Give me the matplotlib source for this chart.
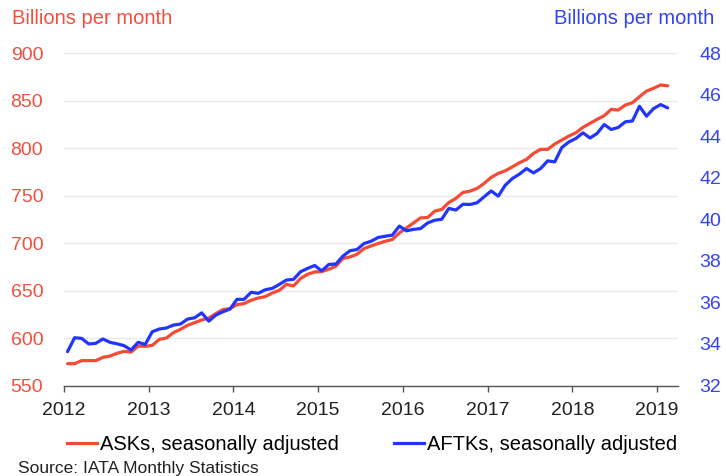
import numpy as np
import pandas as pd
import matplotlib
matplotlib.use("Agg")
import matplotlib.pyplot as plt

plt.rcParams['font.family'] = ['Liberation Sans', 'DejaVu Sans']

# Monthly data, Jan 2012 - Feb 2019
start_month = "2012-01"
n_months = 86

asks = [573.0, 573.0, 576.2, 576.2, 576.2, 579.6, 581.0, 583.9, 586.0, 585.2,
        591.6, 591.2, 592.3, 598.6, 600.0, 605.7, 609.2, 613.4, 616.2, 619.0,
        621.1, 625.7, 630.0, 631.0, 635.2, 636.3, 639.8, 642.2, 643.6, 647.5,
        650.3, 656.6, 654.9, 662.7, 667.2, 669.6, 670.0, 672.5, 675.6, 683.8,
        685.4, 688.3, 694.3, 697.1, 699.6, 702.0, 703.8, 710.8, 716.0, 721.3,
        726.6, 727.0, 733.7, 735.5, 742.8, 747.1, 753.4, 754.8, 757.6, 762.9,
        769.3, 773.5, 776.2, 780.4, 784.7, 788.2, 794.6, 798.8, 798.8, 804.4,
        808.6, 812.8, 816.3, 822.0, 826.2, 830.4, 834.2, 841.0, 840.2, 845.5,
        847.9, 854.2, 860.2, 863.1, 866.6, 865.8]

aftks = [33.63, 34.30, 34.27, 34.00, 34.03, 34.24, 34.08, 34.01, 33.92, 33.71,
         34.08, 33.98, 34.59, 34.72, 34.77, 34.91, 34.96, 35.20, 35.26, 35.50,
         35.10, 35.39, 35.55, 35.68, 36.15, 36.15, 36.49, 36.44, 36.61, 36.68,
         36.87, 37.08, 37.11, 37.48, 37.64, 37.78, 37.52, 37.83, 37.85, 38.23,
         38.49, 38.55, 38.84, 38.95, 39.13, 39.19, 39.24, 39.68, 39.45, 39.52,
         39.56, 39.83, 39.96, 40.01, 40.53, 40.45, 40.73, 40.72, 40.80, 41.09,
         41.37, 41.12, 41.65, 41.97, 42.18, 42.45, 42.24, 42.45, 42.82, 42.77,
         43.46, 43.73, 43.90, 44.17, 43.92, 44.14, 44.57, 44.33, 44.43, 44.70,
         44.74, 45.45, 44.97, 45.34, 45.53, 45.37]

left_ticks = [550, 600, 650, 700, 750, 800, 850, 900]
right_ticks = [32, 34, 36, 38, 40, 42, 44, 46, 48]
year_ticks = [2012, 2013, 2014, 2015, 2016, 2017, 2018, 2019]

red = "#f44a36"
blue = "#2235ff"
red_txt = "#f0503f"
blue_txt = "#3344f0"

# mid-month positions as decimal years
dates = pd.date_range(start_month, periods=n_months, freq="MS")
x = dates.year + (dates.month - 0.5) / 12

fig = plt.figure(figsize=(7.26, 4.76), dpi=100)
ax = fig.add_axes([64 / 726, 1 - 385.5 / 476, (678.3 - 64) / 726, (385.5 - 53.3) / 476])
ax2 = ax.twinx()

ax.plot(x, asks, color=red, lw=2.3, solid_capstyle="round", zorder=3)
ax2.plot(x, aftks, color=blue, lw=2.3, solid_capstyle="round", zorder=3)

ax.set_xlim(2012, 2019.25)
ax.set_ylim(550, 900)
ax2.set_ylim(32, 48)
ax.set_yticks(left_ticks)
ax2.set_yticks(right_ticks)
ax.set_xticks(year_ticks)

ax.grid(axis="y", color="#e9e9e9", lw=1)
ax.set_axisbelow(True)

for a in (ax, ax2):
    for s in ("top", "left", "right"):
        a.spines[s].set_visible(False)
ax2.spines["bottom"].set_visible(False)
ax.spines["bottom"].set_color("#555555")
ax.spines["bottom"].set_linewidth(1)

ax.tick_params(axis="y", length=0, pad=15, labelsize=14, labelcolor=red_txt)
ax2.tick_params(axis="y", length=0, pad=15, labelsize=14, labelcolor=blue_txt)
ax.tick_params(axis="x", length=4, width=1, color="#555555", pad=8,
               labelsize=14, labelcolor="#222222")

fig.text(12 / 726, 1 - 19 / 476, "Billions per month", color=red_txt,
         fontsize=14.5, ha="left", va="center")
fig.text(714 / 726, 1 - 19 / 476, "Billions per month", color=blue_txt,
         fontsize=14.5, ha="right", va="center")

handles = [plt.Line2D([], [], color=red, lw=2.3),
           plt.Line2D([], [], color=blue, lw=2.3)]
fig.legend(handles, ["ASKs, seasonally adjusted", "AFTKs, seasonally adjusted"],
           loc="center", bbox_to_anchor=(372 / 726, 1 - 445 / 476), ncol=2,
           frameon=False, fontsize=14.5, handlelength=1.5, handletextpad=0.15,
           columnspacing=2.7, borderpad=0)

fig.text(18 / 726, 1 - 468 / 476, "Source: IATA Monthly Statistics",
         fontsize=12.5, color="#222222", ha="left", va="center")

fig.savefig("out.png", dpi=100)
